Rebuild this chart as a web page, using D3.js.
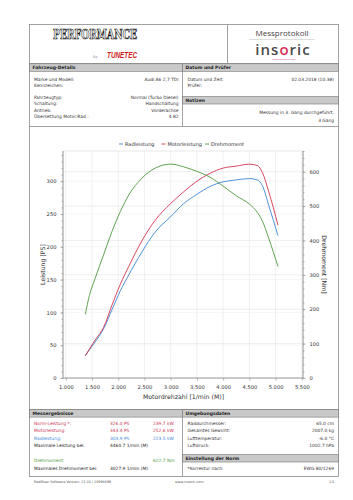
<!DOCTYPE html>
<html>
<head>
<meta charset="utf-8">
<script src="https://cdn.jsdelivr.net/npm/d3@7"></script>
<style>
body { margin: 0; background: #fff; }
svg { font-family: "DejaVu Sans", Verdana, sans-serif; }
</style>
</head>
<body>
<div id="page"></div>
<script>
var rpm = [1372, 1450, 1560, 1720, 1880, 2040, 2200, 2450, 2700, 3000, 3250, 3500, 3750, 4000, 4250, 4500, 4650, 4750, 4870, 5046];
var radleistung = [34, 43, 55, 75, 104, 133, 157, 192, 222, 246, 266, 280, 292, 299, 302, 304, 302, 293, 263, 217];
var motorleistung = [34, 44, 58, 77, 111, 143, 170, 209, 240, 266, 284, 300, 312, 320, 323, 326, 324, 313, 284, 233];
var drehmoment = [185, 240, 290, 358, 426, 484, 532, 581, 610, 622, 614, 601, 584, 558, 530, 506, 482, 456, 406, 324];

var seriesNames = ["Radleistung", "Motorleistung", "Drehmoment"];
var seriesColors = ["#3b86d6", "#d2334f", "#4e9a3c"];

var xTicks = [1000, 1500, 2000, 2500, 3000, 3500, 4000, 4500, 5000, 5500];
var psTicks = [0, 50, 100, 150, 200, 250, 300];
var nmTicks = [0, 100, 200, 300, 400, 500, 600];

// table texts
var vehicleRows = [["Marke und Modell:", "Audi A6 2,7 TDI"], ["Kennzeichen:", ""], ["", ""],
  ["Fahrzeugtyp:", "Normal (Turbo Diesel)"], ["Schaltung:", "Handschaltung"],
  ["Antrieb:", "Vorderachse"], ["Übersetzung Motor:Rad :", "4.82"]];
var dateRows = [["Datum und Zeit:", "02.03.2018 (10:38)"], ["Prüfer:", ""]];
var notes = ["Messung in 3. Gang durchgeführt.", "3 Gang"];
var resultRows = [
  ["Norm-Leistung *:", "326.0 PS", "239.7 kW", "#c8334f"],
  ["Motorleistung:", "343.4 PS", "252.6 kW", "#c8334f"],
  ["Radleistung:", "303.9 PS", "223.5 kW", "#3b86d6"],
  ["Maximale Leistung bei:", "4460.7 1/min (M)", "", "#222"],
  ["", "", "", "#222"],
  ["Drehmoment:", "", "622.7 Nm", "#4e9a3c"],
  ["Maximales Drehmoment bei:", "3027.9 1/min (M)", "", "#222"]];
var envRows = [["Raddurchmesser:", "65.0 cm"], ["Gesamtes Gewicht:", "2007.0 kg"],
  ["Lufttemperatur:", "-6.0 °C"], ["Luftdruck:", "1002.7 hPa"]];
var normRows = [["*Korrektur nach:", "EWG 80/1269"]];

var de = d3.formatLocale({decimal: ",", thousands: ".", grouping: [3], currency: ["", "€"]});
var fmtRpm = de.format(",");

var W = 353, H = 500;
var box = {left: 29.5, right: 338.5, top: 24.5, bottom: 476.5, mid: 182.5};

var svg = d3.select("#page").append("svg")
  .attr("width", W).attr("height", H);

var frame = "#8a8a8a", barFill = "#c9c9c9", txt = "#333";

// outer frame
svg.append("rect")
  .attr("x", box.left).attr("y", box.top)
  .attr("width", box.right - box.left).attr("height", box.bottom - box.top)
  .attr("fill", "none").attr("stroke", frame).attr("stroke-width", 0.8);

// ---- header
svg.append("line").attr("x1", 227.5).attr("x2", 227.5).attr("y1", box.top).attr("y2", 63.5)
  .attr("stroke", frame).attr("stroke-width", 0.8);

svg.append("text").attr("x", 53).attr("y", 38.5)
  .attr("textLength", 84).attr("lengthAdjust", "spacingAndGlyphs")
  .style("font-family", "'DejaVu Serif'").style("font-weight", "bold").style("font-size", "13px")
  .attr("fill", "#fff").attr("stroke", "#111").attr("stroke-width", 0.7)
  .text("PERFORMANCE");
svg.append("text").attr("x", 93).attr("y", 57.5)
  .style("font-size", "4px").attr("fill", "#999").style("font-style", "italic").text("by");
svg.append("text").attr("x", 107).attr("y", 58)
  .attr("textLength", 30).attr("lengthAdjust", "spacingAndGlyphs")
  .style("font-family", "'Liberation Sans Narrow', 'Liberation Sans'").style("font-weight", "bold")
  .style("font-style", "italic").style("font-size", "9px").attr("fill", "#d01c22").text("TUNETEC");

svg.append("text").attr("x", 282).attr("y", 36).attr("text-anchor", "middle")
  .style("font-family", "'Open Sans'").style("font-size", "8px").attr("fill", "#444").text("Messprotokoll");
svg.append("line").attr("x1", 249).attr("x2", 315).attr("y1", 39.5).attr("y2", 39.5)
  .attr("stroke", "#bbb").attr("stroke-width", 0.5);
var logo = svg.append("text").attr("x", 283).attr("y", 55).attr("text-anchor", "middle")
  .style("font-family", "'Open Sans'").style("font-size", "15px").style("font-weight", "600")
  .style("letter-spacing", "1px").attr("fill", "#4a4a4a");
logo.append("tspan").text("ins");
logo.append("tspan").attr("fill", "#d2335a").text("o");
logo.append("tspan").text("ric");
svg.append("text").attr("x", 284).attr("y", 59.5).attr("text-anchor", "middle")
  .style("font-size", "1.8px").attr("fill", "#d2335a").text("measurement technology");

// helper for grey section bars
function bar(x0, x1, y, label) {
  svg.append("rect").attr("x", x0).attr("y", y).attr("width", x1 - x0).attr("height", 7.5)
    .attr("fill", barFill).attr("stroke", "#777").attr("stroke-width", 0.6);
  svg.append("text").attr("x", x0 + 3).attr("y", y + 5.4)
    .style("font-size", "4.5px").style("font-weight", "bold").attr("fill", "#222").text(label);
}
function rows(data, x0, x1, y0, step) {
  data.forEach(function(r, i) {
    var y = y0 + i * step;
    svg.append("text").attr("x", x0).attr("y", y).style("font-size", "4.4px").attr("fill", txt).text(r[0]);
    svg.append("text").attr("x", x1).attr("y", y).attr("text-anchor", "end")
      .style("font-size", "4.4px").attr("fill", txt).text(r[1]);
  });
}

// ---- vehicle / date section
svg.append("line").attr("x1", box.left).attr("x2", box.right).attr("y1", 63.5).attr("y2", 63.5)
  .attr("stroke", frame).attr("stroke-width", 0.8);
bar(box.left, box.mid, 63.8, "Fahrzeug-Details");
bar(box.mid, box.right, 63.8, "Datum und Prüfer");
rows(vehicleRows, 34, 178.5, 80.5, 6.2);
rows(dateRows, 187.5, 334, 80.5, 6.2);
bar(box.mid, box.right, 96.5, "Notizen");
notes.forEach(function(n, i) {
  svg.append("text").attr("x", 334).attr("y", 114 + i * 8.2).attr("text-anchor", "end")
    .style("font-size", "4.4px").attr("fill", txt).text(n);
});
svg.append("line").attr("x1", box.mid).attr("x2", box.mid).attr("y1", 63.5).attr("y2", 126.5)
  .attr("stroke", frame).attr("stroke-width", 0.8);
svg.append("line").attr("x1", box.left).attr("x2", box.right).attr("y1", 126.5).attr("y2", 126.5)
  .attr("stroke", frame).attr("stroke-width", 0.8);

// ---- chart
var plot = {left: 63, right: 303, top: 151, bottom: 378};
var x = d3.scaleLinear().domain([1000, 5500]).range([65.8, 301.8]);
var yL = d3.scaleLinear().domain([0, 300]).range([plot.bottom, 181.2]);
var yR = d3.scaleLinear().domain([0, 600]).range([plot.bottom, 171.7]);

var g = svg.append("g");

// grid
g.selectAll(".gx").data(xTicks).enter().append("line")
  .attr("x1", function(d) { return x(d); }).attr("x2", function(d) { return x(d); })
  .attr("y1", plot.top).attr("y2", plot.bottom)
  .attr("stroke", "#e6e6e6").attr("stroke-width", 0.6);
g.selectAll(".gl").data(psTicks.slice(1)).enter().append("line")
  .attr("x1", plot.left).attr("x2", plot.right)
  .attr("y1", function(d) { return yL(d); }).attr("y2", function(d) { return yL(d); })
  .attr("stroke", "#efefef").attr("stroke-width", 0.6);
g.selectAll(".gr").data(nmTicks.slice(1)).enter().append("line")
  .attr("x1", plot.left).attr("x2", plot.right)
  .attr("y1", function(d) { return yR(d); }).attr("y2", function(d) { return yR(d); })
  .attr("stroke", "#e3e3e3").attr("stroke-width", 0.6);

g.append("rect").attr("x", plot.left).attr("y", plot.top)
  .attr("width", plot.right - plot.left).attr("height", plot.bottom - plot.top)
  .attr("fill", "none").attr("stroke", "#d8d8d8").attr("stroke-width", 0.6);

// axes
function styleAxis(sel) {
  sel.select(".domain").remove();
  sel.selectAll("line").attr("stroke", "#888").attr("stroke-width", 0.6);
  sel.selectAll("text").style("font-size", "5.2px").attr("fill", txt).style("font-family", "'DejaVu Sans'");
}
g.append("g").attr("transform", "translate(" + plot.left + ",0)")
  .call(d3.axisLeft(yL).tickValues(d3.range(0, 350, 10)).tickSize(1.5).tickFormat(""))
  .call(styleAxis);
g.append("g").attr("transform", "translate(" + plot.left + ",0)")
  .call(d3.axisLeft(yL).tickValues(psTicks).tickSize(2.5).tickPadding(4).tickFormat(d3.format("d")))
  .call(styleAxis);
g.append("g").attr("transform", "translate(" + plot.right + ",0)")
  .call(d3.axisRight(yR).tickValues(d3.range(0, 680, 20)).tickSize(1.5).tickFormat(""))
  .call(styleAxis);
g.append("g").attr("transform", "translate(" + plot.right + ",0)")
  .call(d3.axisRight(yR).tickValues(nmTicks).tickSize(2.5).tickPadding(4).tickFormat(d3.format("d")))
  .call(styleAxis);
g.append("g").attr("transform", "translate(0," + plot.bottom + ")")
  .call(d3.axisBottom(x).tickValues(xTicks).tickSize(2.5).tickPadding(5).tickFormat(fmtRpm))
  .call(styleAxis);

[plot.left, plot.right].forEach(function(px) {
  g.append("line").attr("x1", px).attr("x2", px).attr("y1", plot.top).attr("y2", plot.bottom)
    .attr("stroke", "#888").attr("stroke-width", 0.8);
});
g.append("line").attr("x1", plot.left).attr("x2", plot.right).attr("y1", plot.bottom).attr("y2", plot.bottom)
  .attr("stroke", "#888").attr("stroke-width", 0.8);

// axis titles
g.append("text").attr("transform", "translate(44.5," + (plot.top + plot.bottom) / 2 + ") rotate(-90)")
  .attr("text-anchor", "middle").style("font-size", "6.2px").attr("fill", txt).text("Leistung [PS]");
g.append("text").attr("transform", "translate(322," + (plot.top + plot.bottom) / 2 + ") rotate(90)")
  .attr("text-anchor", "middle").style("font-size", "6.2px").attr("fill", txt).text("Drehmoment [Nm]");
g.append("text").attr("x", 183.5).attr("y", 398.5).attr("text-anchor", "middle")
  .style("font-size", "6.2px").attr("fill", txt).text("Motordrehzahl [1/min (M)]");

// curves
var series = [
  {values: radleistung, y: yL},
  {values: motorleistung, y: yL},
  {values: drehmoment, y: yR}
];
series.forEach(function(s, k) {
  var line = d3.line()
    .x(function(d, i) { return x(rpm[i]); })
    .y(function(d) { return s.y(d); })
    .curve(d3.curveMonotoneX);
  g.append("path").datum(s.values).attr("d", line)
    .attr("fill", "none").attr("stroke", seriesColors[k]).attr("stroke-width", 0.9);
});

// legend
var legendX = [119, 161.5, 205];
var lg = g.selectAll(".lg").data(seriesNames).enter().append("g")
  .attr("transform", function(d, i) { return "translate(" + legendX[i] + ",144)"; });
lg.append("line").attr("x1", 0).attr("x2", 4).attr("y1", 0).attr("y2", 0)
  .attr("stroke", function(d, i) { return seriesColors[i]; }).attr("stroke-width", 0.9);
lg.append("text").attr("x", 6).attr("y", 1.8).style("font-size", "5px").attr("fill", txt)
  .text(function(d) { return d; });

// ---- results section
svg.append("line").attr("x1", box.left).attr("x2", box.right).attr("y1", 409.5).attr("y2", 409.5)
  .attr("stroke", frame).attr("stroke-width", 0.8);
bar(box.left, box.mid, 409.6, "Messergebnisse");
bar(box.mid, box.right, 409.6, "Umgebungsdaten");
resultRows.forEach(function(r, i) {
  var y = 424.8 + i * 7.5;
  svg.append("text").attr("x", 34).attr("y", y).style("font-size", "4.4px").attr("fill", r[3]).text(r[0]);
  svg.append("text").attr("x", 110).attr("y", y).style("font-size", "4.4px").attr("fill", r[3]).text(r[1]);
  svg.append("text").attr("x", 153).attr("y", y).style("font-size", "4.4px").attr("fill", r[3]).text(r[2]);
});
rows(envRows, 187.5, 334, 424.8, 7.5);
bar(box.mid, box.right, 454.5, "Einstellung der Norm");
rows(normRows, 187.5, 334, 470, 7.5);
svg.append("line").attr("x1", box.mid).attr("x2", box.mid).attr("y1", 409.5).attr("y2", box.bottom)
  .attr("stroke", frame).attr("stroke-width", 0.8);

// footer
svg.append("text").attr("x", 34).attr("y", 483).style("font-size", "3.4px").attr("fill", "#555")
  .text("RealBeer Software Version: 13.10 / 10998896");
svg.append("text").attr("x", 175).attr("y", 483).style("font-size", "3.4px").attr("fill", "#555")
  .text("www.insoric.com");
svg.append("text").attr("x", 329).attr("y", 483).style("font-size", "3.4px").attr("fill", "#555")
  .text("1/1");
</script>
</body>
</html>
